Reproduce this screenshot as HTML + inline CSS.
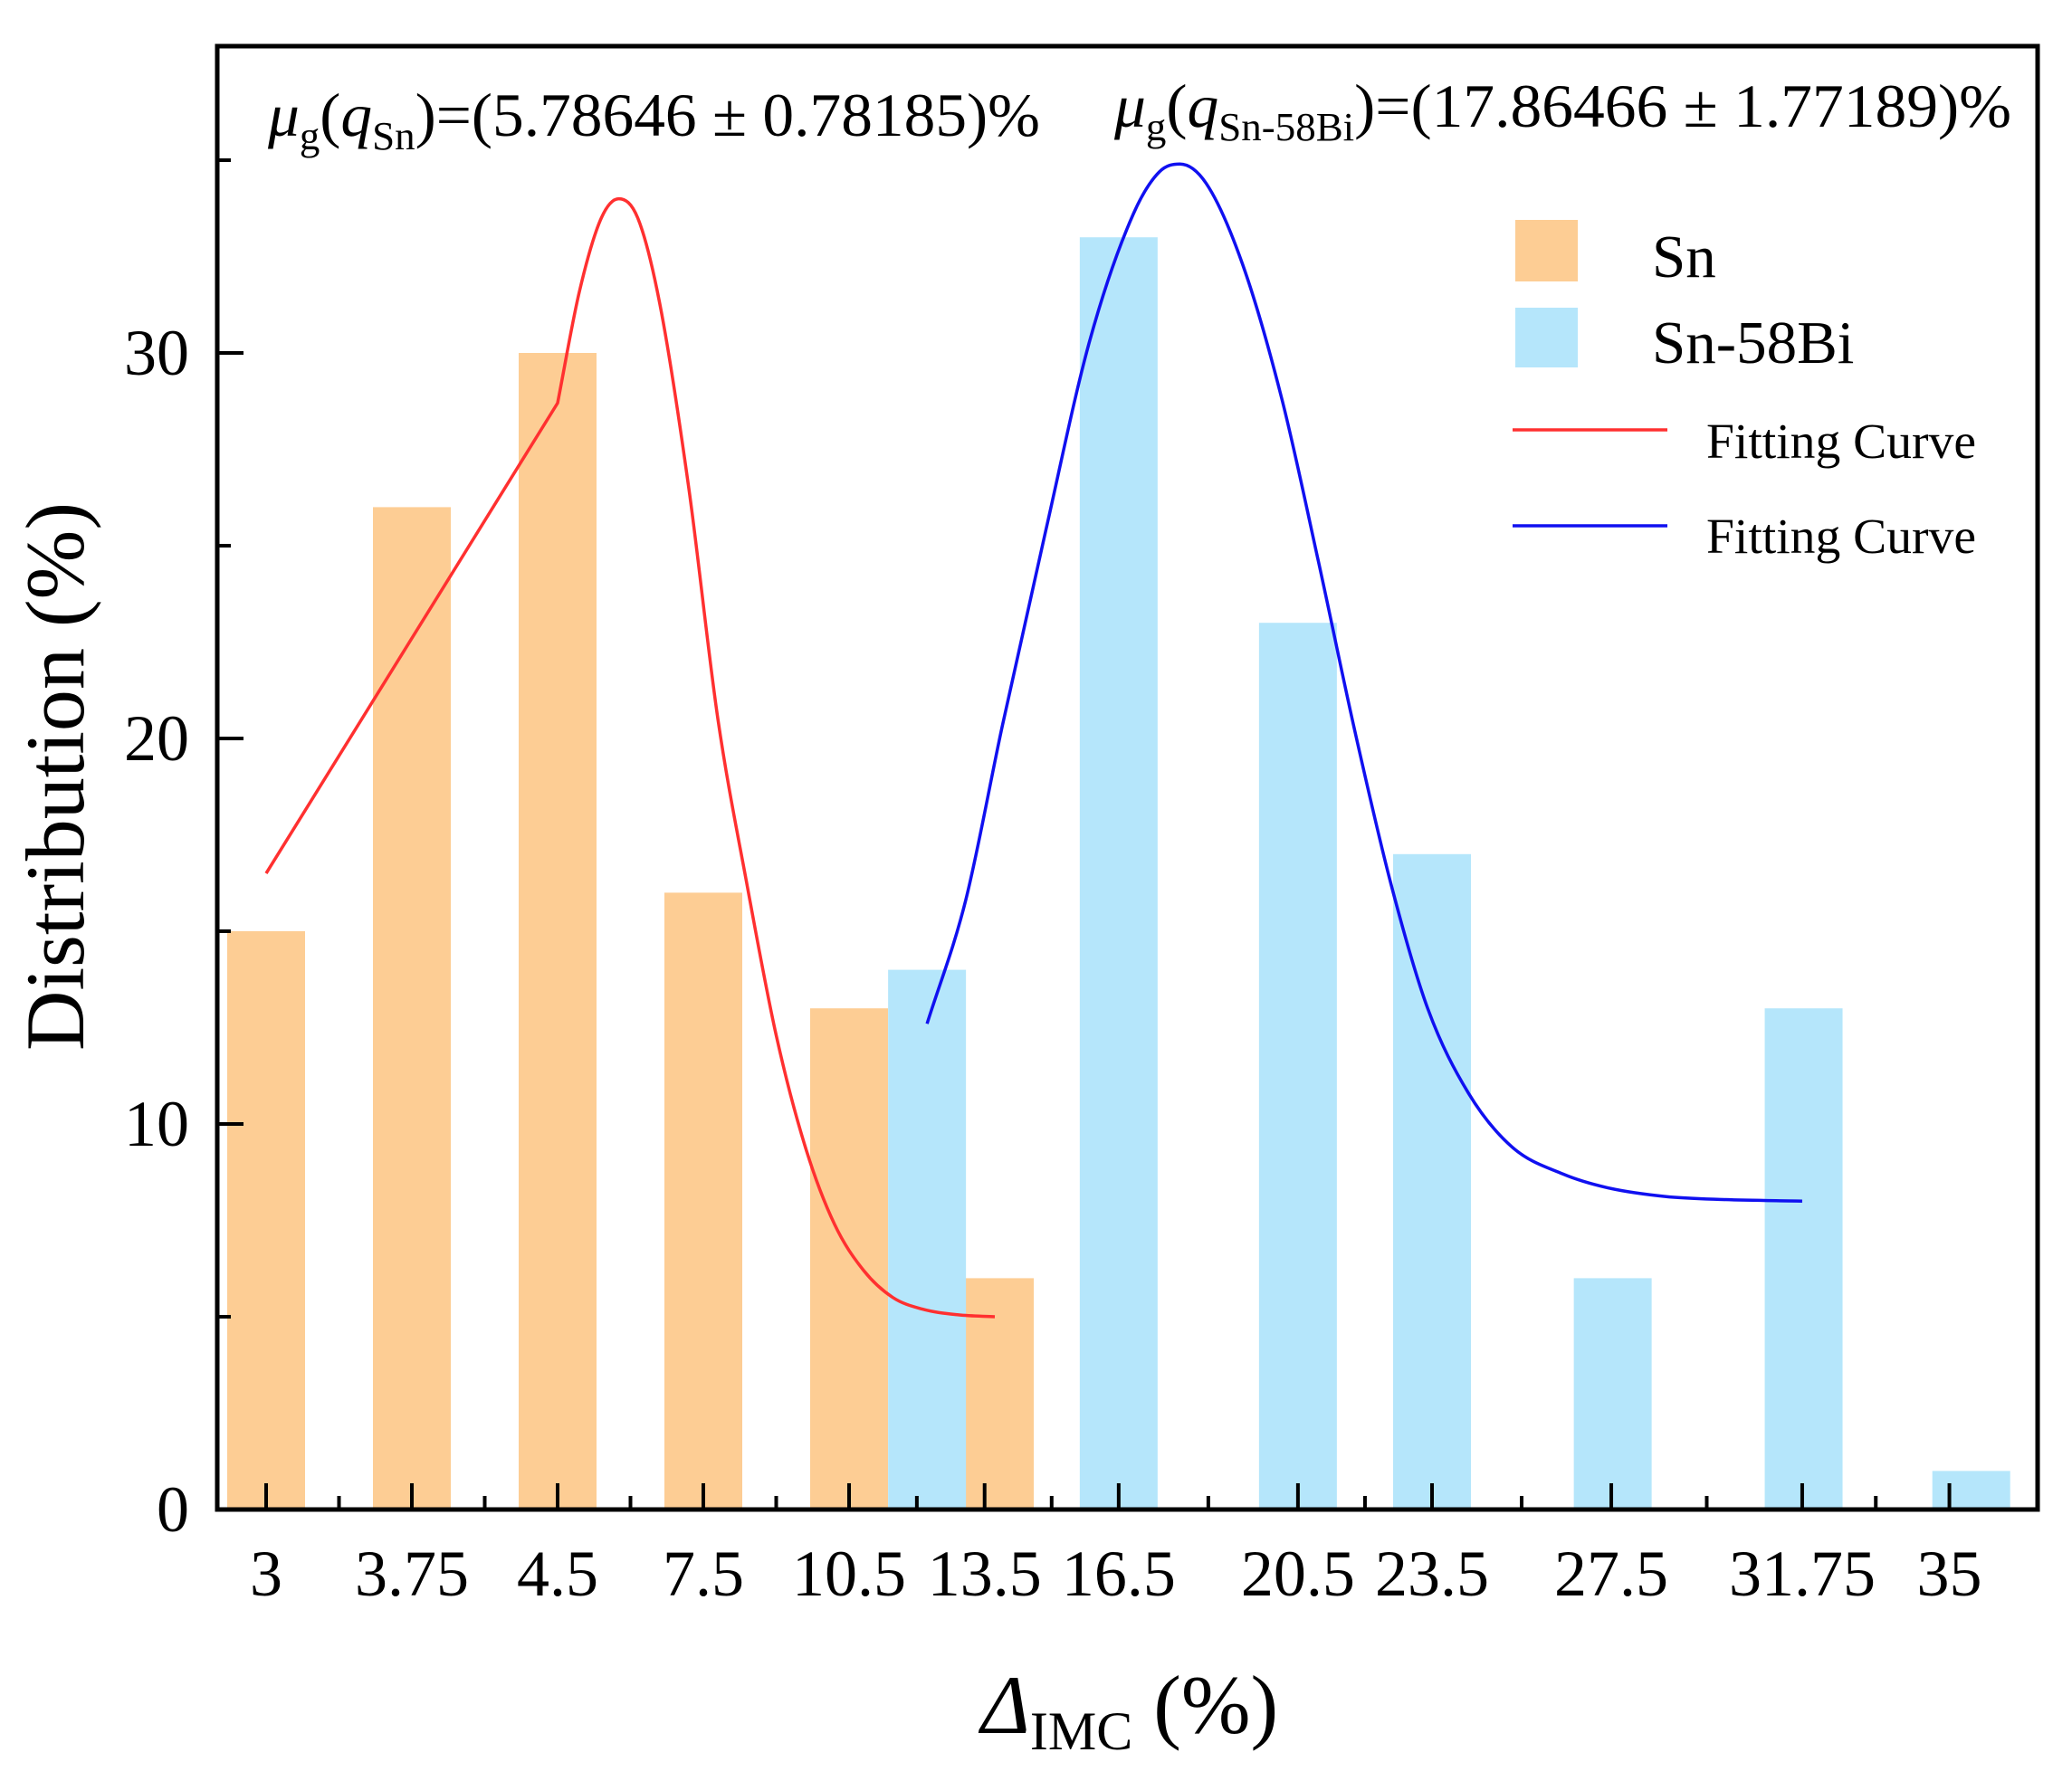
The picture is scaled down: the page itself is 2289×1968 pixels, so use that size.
<!DOCTYPE html>
<html><head><meta charset="utf-8"><style>
html,body{margin:0;padding:0;background:#fff;}
svg{display:block;font-family:"Liberation Serif",serif;}
</style></head><body>
<svg id="chart" width="2289" height="1968" viewBox="0 0 2289 1968" xmlns="http://www.w3.org/2000/svg">
<g id="bars"></g>
<g id="curves"></g>
<g id="axes"></g>
<text x="296" y="150" font-size="68" textLength="853" lengthAdjust="spacingAndGlyphs"><tspan font-style="italic">μ</tspan><tspan font-size="44" dy="15">g</tspan><tspan dy="-15">(</tspan><tspan font-style="italic">q</tspan><tspan font-size="44" dy="15">Sn</tspan><tspan dy="-15">)=(5.78646 ± 0.78185)%</tspan></text>
<text x="1231" y="140" font-size="68" textLength="991" lengthAdjust="spacingAndGlyphs"><tspan font-style="italic">μ</tspan><tspan font-size="44" dy="15">g</tspan><tspan dy="-15">(</tspan><tspan font-style="italic">q</tspan><tspan font-size="44" dy="15">Sn-58Bi</tspan><tspan dy="-15">)=(17.86466 ± 1.77189)%</tspan></text>
<g>
<rect x="1674" y="243" width="69" height="68" fill="#FDCD94"/>
<text x="1825" y="306" font-size="67">Sn</text>
<rect x="1674" y="340" width="69" height="66" fill="#B5E6FB"/>
<text x="1825" y="401" font-size="67">Sn-58Bi</text>
<line x1="1671" y1="475" x2="1842" y2="475" stroke="#FF3030" stroke-width="3.5"/>
<text x="1885" y="506" font-size="55" textLength="298" lengthAdjust="spacingAndGlyphs">Fitting Curve</text>
<line x1="1671" y1="581" x2="1842" y2="581" stroke="#1010F0" stroke-width="3.5"/>
<text x="1885" y="611" font-size="55" textLength="298" lengthAdjust="spacingAndGlyphs">Fitting Curve</text>
</g>
<text transform="translate(92,858) rotate(-90)" text-anchor="middle" font-size="92" textLength="606" lengthAdjust="spacingAndGlyphs">Distribution (%)</text>
<text x="1248" y="1915" text-anchor="middle" font-size="92"><tspan font-style="italic">Δ</tspan><tspan font-size="60" dy="18">IMC</tspan><tspan dy="-18"> (%)</tspan></text>
</svg>
<script>
const snPos = [0, 1, 2, 3, 4, 5];
const snValues = [15, 26, 30, 16, 13, 6];
const biPos = [4.535, 5.85, 7.08, 8.0, 9.24, 10.55, 11.7];
const biValues = [14, 33, 23, 17, 6, 13, 1];
const tickPos = [0, 1, 2, 3, 4, 4.93, 5.85, 7.08, 8.0, 9.23, 10.54, 11.55];
const tickLabels = ["3", "3.75", "4.5", "7.5", "10.5", "13.5", "16.5", "20.5", "23.5", "27.5", "31.75", "35"];
const yTicks = [0, 10, 20, 30];
const redLineX = [0, 2];
const redLineY = [16.5, 28.7];
const redX = [2, 2.15, 2.3, 2.42, 2.55, 2.7, 2.9, 3.1, 3.3, 3.5, 3.7, 3.9, 4.1, 4.3, 4.5, 4.75, 5.0];
const redY = [28.7, 31.6, 33.5, 34.0, 33.5, 31.3, 26.5, 20.5, 16.2, 12.3, 9.4, 7.4, 6.2, 5.5, 5.2, 5.05, 5.0];
const blueX = [4.535, 4.8, 5.05, 5.35, 5.65, 5.95, 6.13, 6.27, 6.45, 6.7, 6.97, 7.22, 7.47, 7.72, 7.97, 8.25, 8.55, 8.9, 9.2, 9.6, 10.0, 10.54];
const blueY = [12.6, 15.8, 20.3, 25.4, 30.3, 33.6, 34.7, 34.9, 34.4, 32.3, 28.8, 24.6, 20.2, 16.2, 13.0, 10.8, 9.4, 8.7, 8.35, 8.12, 8.04, 8.0];

const NS = "http://www.w3.org/2000/svg";
const L = 240, R = 2251, T = 51, B = 1668;
const xs = u => 294 + u * 161;
const ys = v => B - v * 42.6;
const BW = 86;
function mk(tag, attrs, parent) {
  const e = document.createElementNS(NS, tag);
  for (const k in attrs) e.setAttribute(k, attrs[k]);
  parent.appendChild(e);
  return e;
}
const bars = document.getElementById('bars');
snPos.forEach((u, i) => {
  const r = mk('rect', {x: xs(u) - BW / 2, y: ys(snValues[i]), width: BW, height: ys(0) - ys(snValues[i]), fill: '#FDCD94'}, bars);
  
  
});
biPos.forEach((u, i) => {
  const r = mk('rect', {x: xs(u) - BW / 2, y: ys(biValues[i]), width: BW, height: ys(0) - ys(biValues[i]), fill: '#B5E6FB'}, bars);
  
  
});
function monoPath(X, Y, start) {
  const px = X.map(xs), py = Y.map(ys), n = px.length;
  const d = [], m = new Array(n);
  for (let i = 0; i < n - 1; i++) d.push((py[i + 1] - py[i]) / (px[i + 1] - px[i]));
  m[0] = d[0]; m[n - 1] = d[n - 2];
  for (let i = 1; i < n - 1; i++) m[i] = (d[i - 1] * d[i] <= 0) ? 0 : (d[i - 1] + d[i]) / 2;
  for (let i = 0; i < n - 1; i++) {
    if (d[i] === 0) { m[i] = 0; m[i + 1] = 0; continue; }
    const a = m[i] / d[i], b = m[i + 1] / d[i], s = a * a + b * b;
    if (s > 9) { const t = 3 / Math.sqrt(s); m[i] = t * a * d[i]; m[i + 1] = t * b * d[i]; }
  }
  let p = start ? '' : 'M' + px[0] + ',' + py[0];
  for (let i = 0; i < n - 1; i++) {
    const h = (px[i + 1] - px[i]) / 3;
    p += ' C' + (px[i] + h) + ',' + (py[i] + m[i] * h) + ' ' + (px[i + 1] - h) + ',' + (py[i + 1] - m[i + 1] * h) + ' ' + px[i + 1] + ',' + py[i + 1];
  }
  return p;
}
const curves = document.getElementById('curves');
const redD = 'M' + xs(redLineX[0]) + ',' + ys(redLineY[0]) + ' L' + xs(redLineX[1]) + ',' + ys(redLineY[1]) + monoPath(redX, redY, true);
const rc = mk('path', {d: redD, fill: 'none', stroke: '#FF3030', 'stroke-width': 3.5, 'stroke-linejoin': 'round'}, curves);


const bc = mk('path', {d: monoPath(blueX, blueY, false), fill: 'none', stroke: '#1010F0', 'stroke-width': 3.5}, curves);



const axes = document.getElementById('axes');
const fr = mk('rect', {x: L, y: T, width: R - L, height: B - T, fill: 'none', stroke: '#000', 'stroke-width': 5}, axes);


tickPos.forEach((u, i) => {
  const t = mk('line', {x1: xs(u), x2: xs(u), y1: B, y2: B - 29, stroke: '#000', 'stroke-width': 4}, axes);
  
  
  if (i < tickPos.length - 1) {
    const m = (xs(u) + xs(tickPos[i + 1])) / 2;
    const mt = mk('line', {x1: m, x2: m, y1: B, y2: B - 15, stroke: '#000', 'stroke-width': 4}, axes);
    
    
  }
  const tx = mk('text', {x: xs(u), y: 1763, 'text-anchor': 'middle', 'font-size': 72}, axes);
  tx.textContent = tickLabels[i];
  
  
});
yTicks.forEach(v => {
  const t = mk('line', {x1: L, x2: L + 29, y1: ys(v), y2: ys(v), stroke: '#000', 'stroke-width': 4}, axes);
  
  
  const mt = mk('line', {x1: L, x2: L + 15, y1: ys(v + 5), y2: ys(v + 5), stroke: '#000', 'stroke-width': 4}, axes);
  
  
  const tx = mk('text', {x: 209, y: ys(v) + 24, 'text-anchor': 'end', 'font-size': 72}, axes);
  tx.textContent = String(v);
  
  
});
</script>
</body></html>
